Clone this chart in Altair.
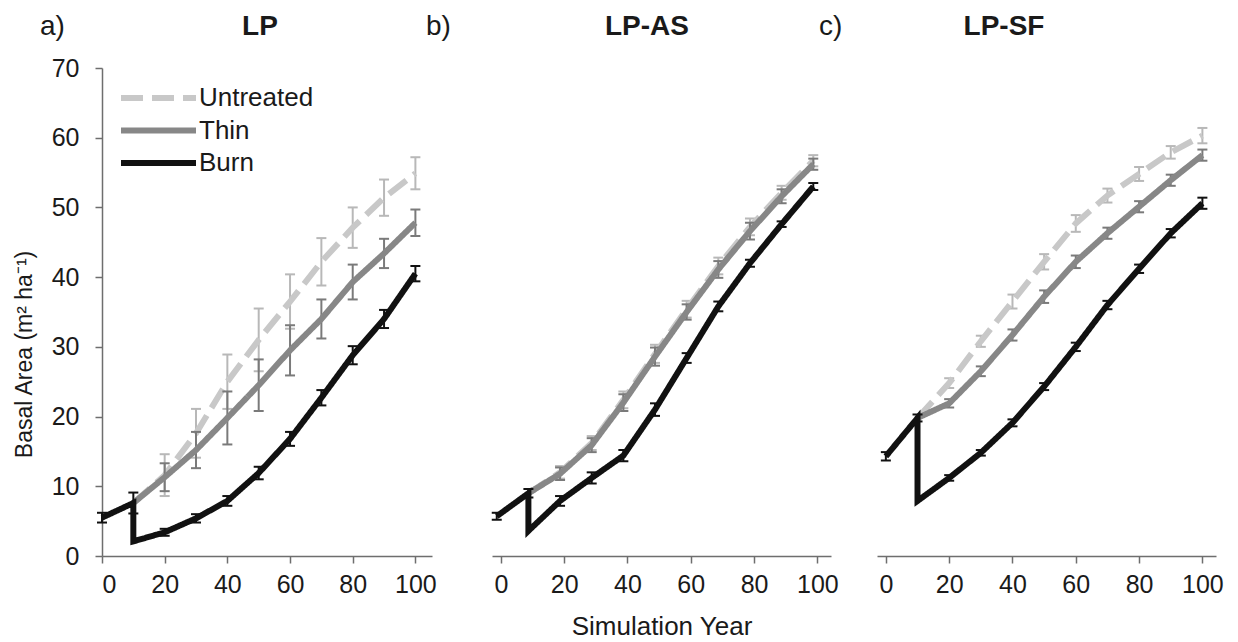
import altair as alt
import pandas as pd

FONT = "Liberation Sans"

PANELS = ["LP", "LP-AS", "LP-SF"]
PANEL_TAGS = ["a)", "b)", "c)"]
SERIES = ["Untreated", "Thin", "Burn"]

# Burn has a pre- and a post-burn value at year 10
BURN_YEARS = [0, 10, 10, 20, 30, 40, 50, 60, 70, 80, 90, 100]
TRT_YEARS = [10, 20, 30, 40, 50, 60, 70, 80, 90, 100]
# small horizontal offset of the plotted points in each panel (as in the original)
X_SHIFT = [0.0, -1.3, 0.0]

# ---- LP ----
burn_a = [5.5, 7.6, 2.1, 3.4, 5.4, 7.9, 11.9, 16.8, 22.7, 28.8, 34.0, 40.5]
burn_a_err = [0.7, 1.5, 0.0, 0.5, 0.6, 0.7, 0.9, 1.0, 1.1, 1.3, 1.3, 1.1]
thin_a = [7.6, 11.3, 15.2, 19.8, 24.5, 29.5, 34.0, 39.3, 43.4, 47.8]
thin_a_err = [0.0, 2.0, 2.6, 3.8, 3.7, 3.6, 2.8, 2.5, 2.1, 1.9]
untr_a = [7.6, 11.6, 17.6, 25.0, 31.0, 36.5, 42.2, 47.1, 51.4, 54.9]
untr_a_err = [0.0, 3.0, 3.5, 3.9, 4.5, 3.9, 3.4, 2.9, 2.6, 2.3]

# ---- LP-AS ----
burn_b = [5.7, 9.0, 3.6, 7.9, 11.2, 14.4, 21.0, 28.4, 35.8, 42.0, 47.6, 53.0]
burn_b_err = [0.5, 0.6, 0.0, 0.7, 0.8, 0.8, 0.9, 0.7, 0.7, 0.5, 0.4, 0.5]
thin_b = [9.0, 11.8, 15.9, 22.0, 28.6, 35.0, 41.1, 46.6, 51.6, 56.2]
thin_b_err = [0.0, 0.9, 1.0, 1.2, 1.3, 1.1, 1.2, 1.2, 1.0, 0.8]
untr_b = [9.0, 12.0, 16.2, 22.4, 29.0, 35.4, 41.6, 47.2, 52.1, 56.7]
untr_b_err = [0.0, 0.9, 1.0, 1.2, 1.3, 1.2, 1.2, 1.2, 1.0, 0.8]

# ---- LP-SF ----
burn_c = [14.3, 19.8, 7.9, 11.2, 14.8, 19.1, 24.3, 30.0, 36.0, 41.2, 46.3, 50.6]
burn_c_err = [0.6, 0.5, 0.0, 0.4, 0.4, 0.5, 0.5, 0.6, 0.6, 0.6, 0.6, 0.8]
thin_c = [19.8, 21.9, 26.5, 31.7, 37.2, 42.2, 46.3, 50.1, 53.9, 57.5]
thin_c_err = [0.0, 0.6, 0.7, 0.8, 0.9, 0.9, 0.8, 0.8, 0.8, 0.8]
untr_c = [19.8, 24.8, 30.8, 36.5, 42.2, 47.7, 51.7, 54.8, 57.9, 60.3]
untr_c_err = [0.0, 0.7, 0.8, 1.0, 1.1, 1.2, 1.0, 1.0, 0.9, 1.1]

DATA = {
    "LP": {"Untreated": (untr_a, untr_a_err), "Thin": (thin_a, thin_a_err), "Burn": (burn_a, burn_a_err)},
    "LP-AS": {"Untreated": (untr_b, untr_b_err), "Thin": (thin_b, thin_b_err), "Burn": (burn_b, burn_b_err)},
    "LP-SF": {"Untreated": (untr_c, untr_c_err), "Thin": (thin_c, thin_c_err), "Burn": (burn_c, burn_c_err)},
}

LINE_COLORS = {"Untreated": "#c8c8c8", "Thin": "#878787", "Burn": "#111111"}
ERR_COLORS = {"Untreated": "#b8b8b8", "Thin": "#7a7a7a", "Burn": "#111111"}
DASHES = {"Untreated": [22, 9], "Thin": [1, 0], "Burn": [1, 0]}

rows = []
for pi, p in enumerate(PANELS):
    for s in SERIES:
        vals, errs = DATA[p][s]
        yrs = BURN_YEARS if s == "Burn" else TRT_YEARS
        for k, (yr, v, e) in enumerate(zip(yrs, vals, errs)):
            rows.append({"panel": p, "series": s, "idx": k, "x": yr + X_SHIFT[pi],
                         "y": v, "lo": v - e, "hi": v + e, "has_err": e > 0})
df = pd.DataFrame(rows)

AXIS_GRAY = "#6e6e6e"
TEXT = "#1a1a1a"

color_scale = alt.Scale(domain=SERIES, range=[LINE_COLORS[s] for s in SERIES])
dash_scale = alt.Scale(domain=SERIES, range=[DASHES[s] for s in SERIES])

X_DOMAINS = [[0, 105.3], [-2.8, 104.3], [-2.8, 104.3]]
WIDTHS = [330, 339, 339]
HEIGHT = 488
TAG_X = [-62, -66, -58]
TITLE_X = [158, 155, 127]


def make_panel(i):
    p = PANELS[i]
    d = df[df["panel"] == p]
    xs = alt.Scale(domain=X_DOMAINS[i], nice=False, zero=False)
    ys = alt.Scale(domain=[0, 70], nice=False)
    x_axis = alt.Axis(values=[0, 20, 40, 60, 80, 100], tickSize=7, labelFontSize=25,
                      labelPadding=9, domainColor=AXIS_GRAY, tickColor=AXIS_GRAY,
                      domainWidth=1.5, tickWidth=1.5, labelColor=TEXT, grid=False,
                      title="Simulation Year" if i == 1 else None,
                      titleFontSize=26, titleFontWeight="normal", titleColor=TEXT,
                      titlePadding=16)
    if i == 0:
        y_axis = alt.Axis(values=[0, 10, 20, 30, 40, 50, 60, 70], tickSize=7, labelFontSize=25,
                          labelPadding=16, domainColor=AXIS_GRAY, tickColor=AXIS_GRAY,
                          domainWidth=1.5, tickWidth=1.5, labelColor=TEXT, grid=False,
                          title="Basal Area (m² ha⁻¹)", titleFontSize=23,
                          titleFontWeight="normal", titleColor=TEXT,
                          titleX=-78, titleY=286, titleBaseline="middle")
    else:
        y_axis = None
    base = alt.Chart(d)
    X = alt.X("x:Q", scale=xs, axis=x_axis)
    Y = alt.Y("y:Q", scale=ys, axis=y_axis)
    layers = []
    for s in SERIES:
        ds = base.transform_filter(alt.datum.series == s)
        if i == 0:
            col = alt.Color("series:N", scale=color_scale,
                            legend=alt.Legend(title=None, orient="none", legendX=16, legendY=15,
                                              symbolType="stroke", symbolSize=5625,
                                              symbolStrokeWidth=6, labelFontSize=26,
                                              labelFont=FONT, labelColor=TEXT, labelOffset=0,
                                              clipHeight=30, rowPadding=2.5, padding=0))
            dash = alt.StrokeDash("series:N", scale=dash_scale, legend=alt.Legend(title=None))
        else:
            col = alt.value(LINE_COLORS[s])
            dash = alt.value(DASHES[s])
        line = ds.mark_line(strokeWidth=6, strokeCap="butt").encode(
            x=X, y=Y, color=col, strokeDash=dash, order="idx:Q")
        ed = ds.transform_filter(alt.datum.has_err)
        rule = ed.mark_rule(strokeWidth=2).encode(
            x=X, y=alt.Y("lo:Q", scale=ys, axis=y_axis), y2="hi:Q", color=alt.value(ERR_COLORS[s]))
        cap_lo = ed.mark_tick(orient="horizontal", size=10, thickness=2).encode(
            x=X, y=alt.Y("lo:Q", scale=ys, axis=y_axis), color=alt.value(ERR_COLORS[s]), opacity=alt.value(1))
        cap_hi = ed.mark_tick(orient="horizontal", size=10, thickness=2).encode(
            x=X, y=alt.Y("hi:Q", scale=ys, axis=y_axis), color=alt.value(ERR_COLORS[s]), opacity=alt.value(1))
        layers += [rule, cap_lo, cap_hi, line]
    lab = pd.DataFrame({"tag": [PANEL_TAGS[i]], "name": [p]})
    tag = alt.Chart(lab).mark_text(align="left", baseline="alphabetic", fontSize=28,
                                   font=FONT, color=TEXT).encode(
        text="tag:N", x=alt.value(TAG_X[i]), y=alt.value(-33))
    ttl = alt.Chart(lab).mark_text(align="center", baseline="alphabetic", fontSize=28,
                                   fontWeight="bold", font=FONT, color=TEXT).encode(
        text="name:N", x=alt.value(TITLE_X[i]), y=alt.value(-33))
    return alt.layer(*layers, tag, ttl).properties(width=WIDTHS[i], height=HEIGHT)


pa, pb, pc = make_panel(0), make_panel(1), make_panel(2)
right = alt.hconcat(pb, pc, spacing=46, bounds="flush")
chart = alt.hconcat(pa, right, spacing=60, bounds="flush").properties(
    padding={"left": 5, "top": 5, "right": 5, "bottom": 5}
).configure(font=FONT).configure_view(stroke="transparent", strokeWidth=0)

chart.save("out.html", embed_options={"renderer": "svg", "actions": False})
